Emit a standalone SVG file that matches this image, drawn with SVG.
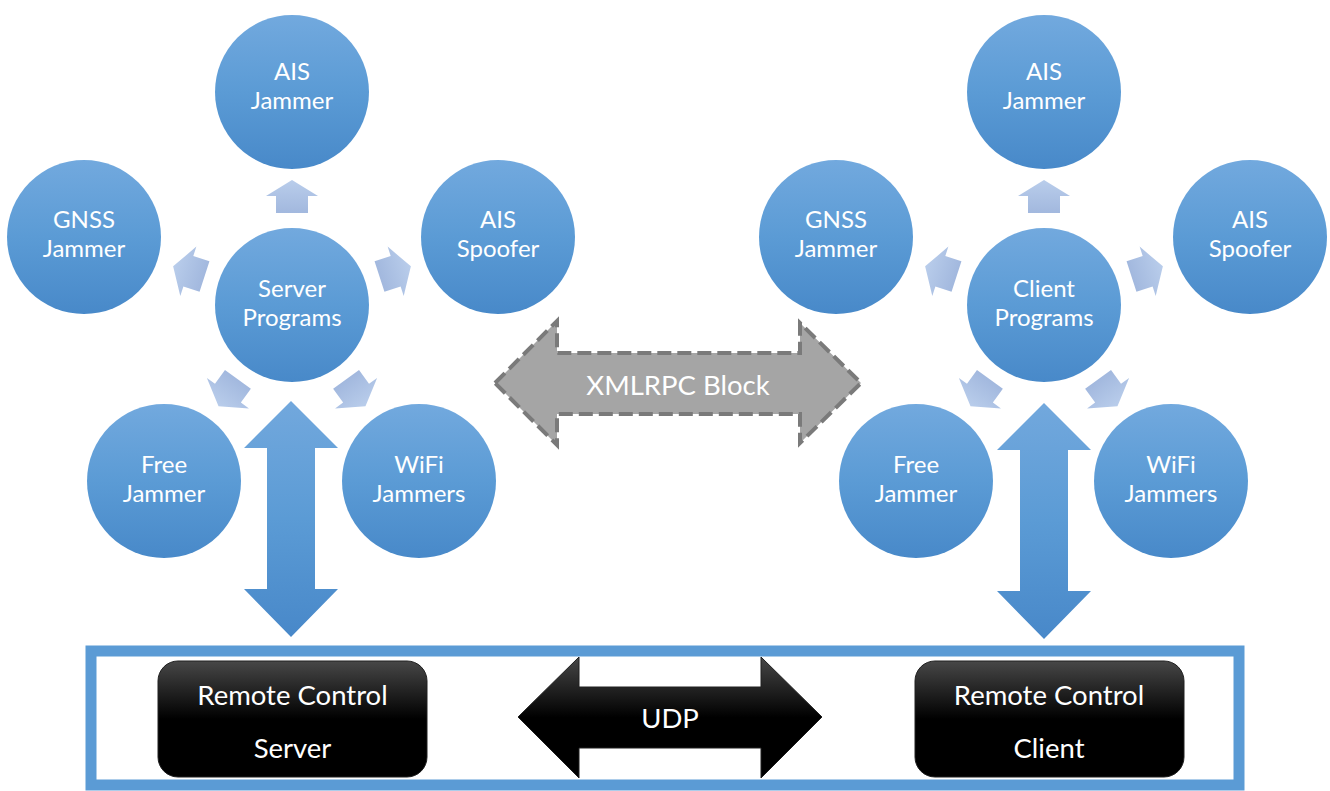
<svg xmlns="http://www.w3.org/2000/svg" width="1330" height="791" viewBox="0 0 1330 791">
<defs>
<linearGradient id="gCircle" x1="0" y1="0" x2="0" y2="1">
<stop offset="0" stop-color="#72a9de"/>
<stop offset="0.5" stop-color="#5b9bd5"/>
<stop offset="1" stop-color="#4889c9"/>
</linearGradient>
<linearGradient id="gSmall" x1="0" y1="0" x2="0" y2="1">
<stop offset="0" stop-color="#b9cdeb"/>
<stop offset="1" stop-color="#a2b8de"/>
</linearGradient>
<linearGradient id="gBig" x1="0" y1="0" x2="0" y2="1">
<stop offset="0" stop-color="#72a8dd"/>
<stop offset="0.5" stop-color="#5b9bd5"/>
<stop offset="1" stop-color="#4888c9"/>
</linearGradient>
<linearGradient id="gBlack" x1="0" y1="0" x2="0" y2="1">
<stop offset="0" stop-color="#474747"/>
<stop offset="0.5" stop-color="#000000"/>
<stop offset="1" stop-color="#000000"/>
</linearGradient>
<path id="smallArrow" d="M0,-125 L26,-109 L16,-109 L16,-92 L-16,-92 L-16,-109 L-26,-109 Z"/>
</defs>
<style>
.c{fill:url(#gCircle)}
.t{font-family:Lato,"Carlito","Liberation Sans",sans-serif;fill:#ffffff;text-anchor:middle;font-size:24px}
.tb{font-family:Lato,"Carlito","Liberation Sans",sans-serif;fill:#ffffff;text-anchor:middle;font-size:27.5px}
.sa{fill:url(#gSmall)}
.big{fill:url(#gBig)}
.blk{fill:url(#gBlack);stroke:#202020;stroke-width:1}
</style>

<g id="connectors">
  <g id="server-small-arrows" transform="translate(292,305)">
    <use href="#smallArrow" class="sa"/>
    <use href="#smallArrow" class="sa" transform="rotate(72)"/>
    <use href="#smallArrow" class="sa" transform="rotate(144)"/>
    <use href="#smallArrow" class="sa" transform="rotate(216)"/>
    <use href="#smallArrow" class="sa" transform="rotate(288)"/>
  </g>
  <g id="client-small-arrows" transform="translate(1044,305)">
    <use href="#smallArrow" class="sa"/>
    <use href="#smallArrow" class="sa" transform="rotate(72)"/>
    <use href="#smallArrow" class="sa" transform="rotate(144)"/>
    <use href="#smallArrow" class="sa" transform="rotate(216)"/>
    <use href="#smallArrow" class="sa" transform="rotate(288)"/>
  </g>
  <path id="server-vertical-arrow" class="big" d="M291,401 L338,448 L315,448 L315,589 L338,589 L291,637 L244,589 L267,589 L267,448 L244,448 Z"/>
  <path id="client-vertical-arrow" class="big" d="M1044,403 L1091,450 L1068,450 L1068,591 L1091,591 L1044,639 L997,591 L1020,591 L1020,450 L997,450 Z"/>
  <g id="xmlrpc">
    <path d="M495,383 L557,321 L557,353 L800,353 L800,323 L861,383 L800,443 L800,414 L557,414 L557,445 Z" fill="#a5a5a5" stroke="#7a7a7a" stroke-width="4" stroke-dasharray="14,6" stroke-linejoin="miter"/>
    <text class="tb" x="678" y="395">XMLRPC Block</text>
  </g>
</g>

<g id="server-programs"><circle class="c" cx="292" cy="305" r="77"/><text class="t" x="292" y="297">Server</text><text class="t" x="292" y="326">Programs</text></g>
<g id="server-ais-jammer"><circle class="c" cx="292" cy="92" r="77"/><text class="t" x="292" y="80">AIS</text><text class="t" x="292" y="109">Jammer</text></g>
<g id="server-gnss-jammer"><circle class="c" cx="84" cy="237" r="77"/><text class="t" x="84" y="228">GNSS</text><text class="t" x="84" y="257">Jammer</text></g>
<g id="server-ais-spoofer"><circle class="c" cx="498" cy="237" r="77"/><text class="t" x="498" y="228">AIS</text><text class="t" x="498" y="257">Spoofer</text></g>
<g id="server-free-jammer"><circle class="c" cx="164" cy="481" r="77"/><text class="t" x="164" y="473">Free</text><text class="t" x="164" y="502">Jammer</text></g>
<g id="server-wifi-jammers"><circle class="c" cx="419" cy="481" r="77"/><text class="t" x="419" y="473">WiFi</text><text class="t" x="419" y="502">Jammers</text></g>

<g id="client-programs"><circle class="c" cx="1044" cy="305" r="77"/><text class="t" x="1044" y="297">Client</text><text class="t" x="1044" y="326">Programs</text></g>
<g id="client-ais-jammer"><circle class="c" cx="1044" cy="92" r="77"/><text class="t" x="1044" y="80">AIS</text><text class="t" x="1044" y="109">Jammer</text></g>
<g id="client-gnss-jammer"><circle class="c" cx="836" cy="237" r="77"/><text class="t" x="836" y="228">GNSS</text><text class="t" x="836" y="257">Jammer</text></g>
<g id="client-ais-spoofer"><circle class="c" cx="1250" cy="237" r="77"/><text class="t" x="1250" y="228">AIS</text><text class="t" x="1250" y="257">Spoofer</text></g>
<g id="client-free-jammer"><circle class="c" cx="916" cy="481" r="77"/><text class="t" x="916" y="473">Free</text><text class="t" x="916" y="502">Jammer</text></g>
<g id="client-wifi-jammers"><circle class="c" cx="1171" cy="481" r="77"/><text class="t" x="1171" y="473">WiFi</text><text class="t" x="1171" y="502">Jammers</text></g>

<g id="remote-control-frame">
  <rect x="91" y="651" width="1148" height="134" fill="none" stroke="#5b9bd5" stroke-width="11"/>
</g>
<g id="remote-control-server">
  <rect class="blk" x="158" y="661" width="269" height="116" rx="20" ry="20"/>
  <text class="tb" x="292.5" y="705">Remote Control</text>
  <text class="tb" x="292.5" y="758">Server</text>
</g>
<g id="remote-control-client">
  <rect class="blk" x="915" y="661" width="269" height="116" rx="20" ry="20"/>
  <text class="tb" x="1049" y="705">Remote Control</text>
  <text class="tb" x="1049" y="758">Client</text>
</g>
<g id="udp">
  <path class="blk" d="M518,717 L579,657 L579,687 L761,687 L761,657 L822,717 L761,778 L761,748 L579,748 L579,778 Z"/>
  <text class="tb" x="670" y="728">UDP</text>
</g>
</svg>
